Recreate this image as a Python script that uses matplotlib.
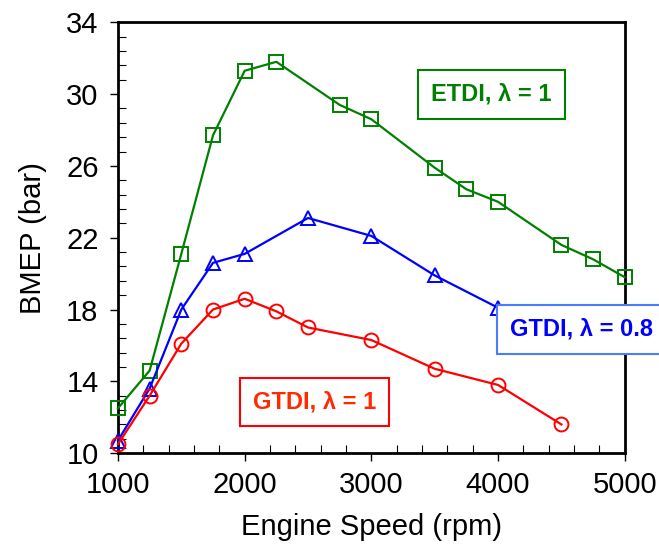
import matplotlib
matplotlib.use("Agg")
import matplotlib.pyplot as plt
from matplotlib.ticker import AutoMinorLocator

plt.rcParams['font.family'] = ['Liberation Sans', 'DejaVu Sans']

# Datos
rpm_etdi = [1000, 1250, 1500, 1750, 2000, 2250, 2750, 3000, 3500, 3750, 4000, 4500, 4750, 5000]
bmep_etdi = [12.5, 14.6, 21.1, 27.7, 31.3, 31.8, 29.4, 28.6, 25.9, 24.7, 24.0, 21.6, 20.8, 19.8]

rpm_gtdi08 = [1000, 1250, 1500, 1750, 2000, 2500, 3000, 3500, 4000]
bmep_gtdi08 = [10.7, 13.6, 18.0, 20.6, 21.1, 23.1, 22.1, 19.9, 18.1]

rpm_gtdi1 = [1000, 1250, 1500, 1750, 2000, 2250, 2500, 3000, 3500, 4000, 4500]
bmep_gtdi1 = [10.5, 13.2, 16.1, 18.0, 18.6, 17.9, 17.0, 16.3, 14.7, 13.8, 11.6]

xticks = [1000, 2000, 3000, 4000, 5000]
yticks = [10, 14, 18, 22, 26, 30, 34]

verde = '#008000'
azul = '#0000ff'
rojo = '#ff0000'

fig = plt.figure(figsize=(6.59, 5.44), dpi=100)
ax = fig.add_axes([0.179, 0.167, 0.769, 0.792])

ax.plot(rpm_etdi, bmep_etdi, color=verde, lw=1.6, marker='s', ms=10,
        mfc='none', mec=verde, mew=1.4, clip_on=False, zorder=3)
ax.plot(rpm_gtdi08, bmep_gtdi08, color=azul, lw=1.6, marker='^', ms=10,
        mfc='none', mec=azul, mew=1.4, clip_on=False, zorder=3)
ax.plot(rpm_gtdi1, bmep_gtdi1, color=rojo, lw=1.6, marker='o', ms=10,
        mfc='none', mec=rojo, mew=1.4, clip_on=False, zorder=3)

ax.set_xlim(1000, 5000)
ax.set_ylim(10, 34)
ax.set_xticks(xticks)
ax.set_yticks(yticks)
ax.xaxis.set_minor_locator(AutoMinorLocator(5))
ax.yaxis.set_minor_locator(AutoMinorLocator(5))
ax.tick_params(which='major', direction='out', length=6, width=1, labelsize=21)
ax.tick_params(axis='x', which='major', pad=7)
ax.tick_params(axis='y', which='major', pad=8)
ax.tick_params(which='minor', direction='in', length=6, width=0.8)
for s in ax.spines.values():
    s.set_linewidth(2)

ax.set_xlabel("Engine Speed (rpm)", fontsize=21, labelpad=10)
ax.set_ylabel("BMEP (bar)", fontsize=21, labelpad=14)

ax.text(3950, 30.0, "ETDI, λ = 1", color=verde, fontsize=17,
        fontweight='bold', ha='center', va='center',
        bbox=dict(boxstyle='square,pad=0.55', fc='white', ec=verde, lw=1.5))
ax.text(4660, 16.9, "GTDI, λ = 0.8", color=azul, fontsize=17,
        fontweight='bold', ha='center', va='center', clip_on=False, zorder=5,
        bbox=dict(boxstyle='square,pad=0.55', fc='white', ec='#4a7cff', lw=1.5))
ax.text(2550, 12.85, "GTDI, λ = 1", color='#ff2a00', fontsize=17,
        fontweight='bold', ha='center', va='center',
        bbox=dict(boxstyle='square,pad=0.55', fc='white', ec=rojo, lw=1.5))

fig.savefig("out.png", dpi=100)
plt.close()
